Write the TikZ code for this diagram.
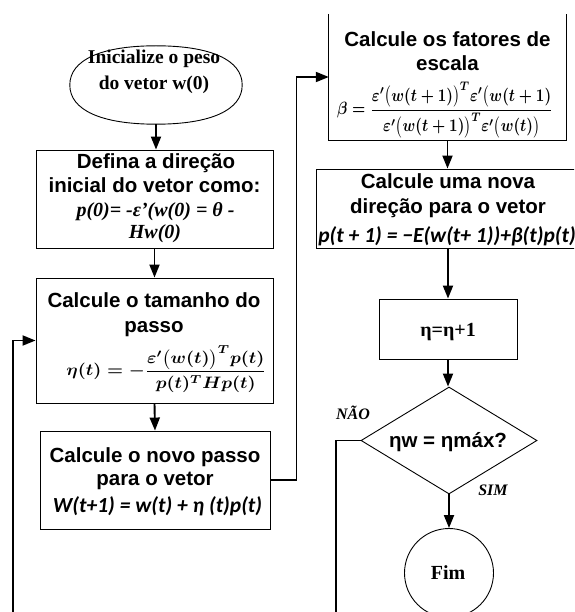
\documentclass[tikz,border=0pt]{standalone}
\usepackage{fontspec}
\usepackage{amsmath,amssymb}
\usepackage{graphicx}
\setmainfont{Liberation Serif}
\newfontfamily\arialf{Liberation Sans}
\newfontfamily\calf{Carlito}
\usetikzlibrary{shapes.geometric,arrows.meta}
\begin{document}
\begin{tikzpicture}[x=1pt,y=-1pt,
  box/.style={draw,line width=0.9pt,inner sep=0pt},
  conn/.style={line width=1.9pt,-{Triangle[length=13pt,width=10pt]}},
  plainline/.style={line width=1.9pt},
  stxt/.style={font=\arialf\bfseries\fontsize{20.5}{24}\selectfont,inner sep=0pt,anchor=base},
  rtxt/.style={font=\bfseries\fontsize{20}{24}\selectfont,inner sep=0pt,anchor=base},
  ritxt/.style={font=\bfseries\itshape\fontsize{20}{24}\selectfont,inner sep=0pt,anchor=base},
  ctxt/.style={font=\calf\bfseries\itshape\fontsize{21.5}{24}\selectfont,inner sep=0pt,anchor=base},
  lbl/.style={font=\bfseries\itshape\fontsize{16}{18}\selectfont,inner sep=0pt},
  frm/.style={inner sep=0pt},
]
\useasboundingbox (0,0) rectangle (574,612);
\clip (0,0) rectangle (574,612);

% start ellipse (slightly squarish outline)
\node[ellipse,minimum width=172pt,minimum height=78pt,inner sep=0pt] (init) at (156,85) {};
\draw[line width=0.9pt]
  (init.west) .. controls +(0,-25) and +(-55,0) .. (init.north)
              .. controls +(55,0) and +(0,-25) .. (init.east)
              .. controls +(0,25) and +(55,0) .. (init.south)
              .. controls +(-55,0) and +(0,25) .. (init.west) -- cycle;
\node[rtxt,font=\bfseries\fontsize{19.5}{24}\selectfont] (initA) at (154,64) {Inicialize o peso};
\node[rtxt,font=\bfseries\fontsize{19.5}{24}\selectfont] (initB) at (154,90) {do vetor w(0)};

% box 2
\node[box,minimum width=237pt,minimum height=98pt] (b2) at (154.5,199) {};
\node[stxt] (b2a) at (156,169) {Defina a direção};
\node[stxt] (b2b) at (154.5,193) {inicial do vetor como:};
\node[ritxt] (b2c) at (155.5,216) {p(0)= -ε’(w(0) = θ -};
\node[ritxt] (b2d) at (155,238) {Hw(0)};

% box 3
\node[box,minimum width=237pt,minimum height=125pt] (b3) at (154.5,340.5) {};
\node[stxt] (b3a) at (154,307) {Calcule o tamanho do};
\node[stxt] (b3b) at (154,332) {passo};
\node[frm] (b3f) at (166.5,369) {\resizebox*{200pt}{47pt}{\boldmath$\eta(t)=-\dfrac{\varepsilon'\bigl(w(t)\bigr)^{T}p(t)}{p(t)^{T}Hp(t)}$}};

% box 4
\node[box,minimum width=230pt,minimum height=98pt] (b4) at (155,480) {};
\node[stxt] (b4a) at (155,462) {Calcule o novo passo};
\node[stxt] (b4b) at (155,485) {para o vetor};
\node[ctxt] (b4c) at (157.5,512) {W(t+1) = w(t) + η (t)p(t)};

% box 5 (top cut off)
\node[inner sep=0pt,minimum width=237pt,minimum height=126pt] (b5) at (447.5,77) {};
\draw[line width=0.9pt] (b5.north west) -- (b5.south west) -- (b5.south east) -- (b5.north east);
\node[stxt] (b5a) at (447.5,47) {Calcule os fatores de};
\node[stxt] (b5b) at (447.5,71) {escala};
\node[frm] (b5f) at (445,110) {\resizebox*{216pt}{56pt}{\boldmath$\beta=\dfrac{\varepsilon'\bigl(w(t+1)\bigr)^{T}\varepsilon'\bigl(w(t+1)}{\varepsilon'\bigl(w(t+1)\bigr)^{T}\varepsilon'\bigl(w(t)\bigr)}$}};

% box 6
\node[box,minimum width=264pt,minimum height=79pt] (b6) at (448,208.5) {};
\node[stxt] (b6a) at (448,189) {Calcule uma nova};
\node[stxt] (b6b) at (448,213) {direção para o vetor};
\node[ctxt] (b6c) at (447,242) {p(t + 1) = −E(w(t+ 1))+β(t)p(t)};

% box 7
\node[box,minimum width=138pt,minimum height=60pt] (b7) at (448,329) {};
\node[rtxt] (b7a) at (448,336) {η=η+1};

% decision
\node[diamond,draw,line width=0.9pt,minimum width=176pt,minimum height=107pt,inner sep=0pt] (dia) at (449,440.5) {};
\node[stxt] (diat) at (448,447) {ηw = ηmáx?};
\node[lbl] (nao) at (353,413) {NÃO};
\node[lbl] (sim) at (493,490) {SIM};

% end circle
\node[circle,draw,line width=0.9pt,minimum size=89pt,inner sep=0pt] (fim) at (449,573) {};
\node[rtxt] (fimt) at (448,579) {Fim};

% connectors
\coordinate (naobot) at (336,620);
\coordinate (loopbot) at (13,620);
\draw[conn] (init.south) -- (init.south |- b2.north);
\draw[conn] (b2.south) -- (b3.north);
\draw[conn] (b3.south) -- (b4.north);
\draw[conn] (b4.east) -- ++(26,0) |- (b5.west);
\draw[conn] (b5.south) -- (b5.south |- b6.north);
\draw[conn] (b6.south) -- (b6.south |- b7.north);
\draw[conn] (b7.south) -- (b7.south |- dia.north);
\draw[conn] (dia.south) -- (fim.north);
\draw[plainline] (dia.west) -| (naobot);
\draw[conn] (loopbot) |- (b3.west);
\end{tikzpicture}
\end{document}
